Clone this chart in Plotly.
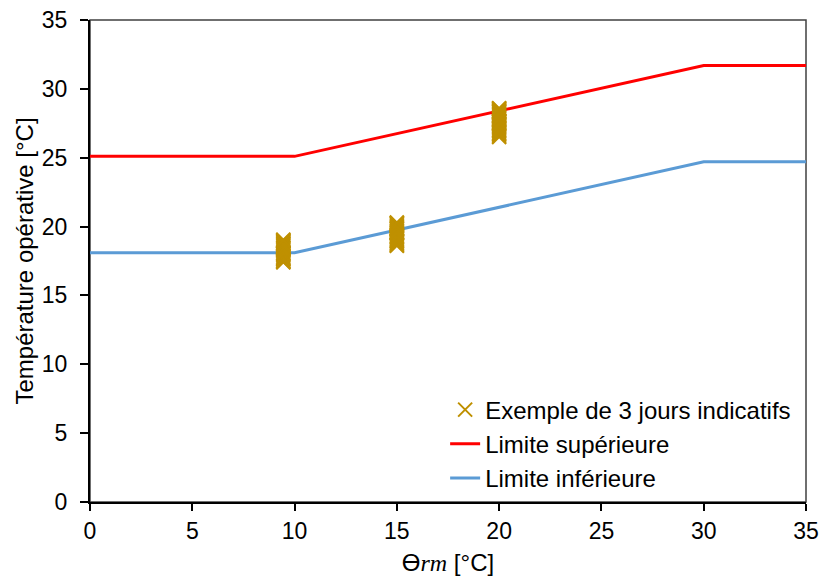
import plotly.graph_objects as go

# Limits (EN 15251-type adaptive comfort)
limit_x = [0, 10, 30, 35]
upper_y = [25.1, 25.1, 31.7, 31.7]
lower_y = [18.1, 18.1, 24.7, 24.7]

# Three indicative days (hourly operative temperatures)
day1_x = 9.45
day1_y = [17.4, 17.5, 17.45, 17.6, 17.7, 17.65, 17.8, 17.9, 18.0, 18.1, 18.05, 18.2,
          18.3, 18.4, 18.5, 18.45, 18.6, 18.7, 18.8, 18.75, 18.9, 18.95, 19.0, 19.05]
day2_x = 15.0
day2_y = [18.6, 18.7, 18.65, 18.8, 18.9, 19.0, 18.95, 19.1, 19.2, 19.3, 19.25, 19.4,
          19.5, 19.6, 19.55, 19.7, 19.8, 19.9, 19.85, 20.0, 20.1, 20.2, 20.25, 20.3]
day3_x = 20.0
day3_y = [26.5, 26.6, 26.7, 26.8, 26.9, 27.0, 27.1, 27.2, 27.3, 27.4, 27.5, 27.6,
          27.7, 27.8, 27.9, 28.0, 28.1, 28.2, 28.3, 28.35, 28.4, 28.5, 28.55, 28.6]

ticks = [0, 5, 10, 15, 20, 25, 30, 35]

pts_x = [day1_x] * len(day1_y) + [day2_x] * len(day2_y) + [day3_x] * len(day3_y)
pts_y = day1_y + day2_y + day3_y

FONT = "Liberation Sans, Arial, sans-serif"

fig = go.Figure()
fig.add_trace(go.Scatter(x=limit_x, y=upper_y, mode="lines", name="Limite supérieure",
                         line=dict(color="#FF0000", width=3), legendrank=2))
fig.add_trace(go.Scatter(x=limit_x, y=lower_y, mode="lines", name="Limite inférieure",
                         line=dict(color="#5B9BD5", width=3), legendrank=3))
fig.add_trace(go.Scatter(x=pts_x, y=pts_y, mode="markers", name="Exemple de 3 jours indicatifs",
                         marker=dict(symbol="x-thin", size=14, color="#BF9000",
                                     line=dict(color="#BF9000", width=2)),
                         legendrank=1))

fig.update_layout(
    width=822, height=577,
    margin=dict(l=90, r=16, t=20, b=75),
    paper_bgcolor="white", plot_bgcolor="white",
    font=dict(family=FONT, size=23, color="#000000"),
    showlegend=True,
    legend=dict(x=0.496, y=0.003, xanchor="left", yanchor="bottom",
                bgcolor="rgba(0,0,0,0)", font=dict(size=24), tracegroupgap=0,
                itemwidth=30),
    xaxis=dict(range=[0, 35], tickvals=ticks, ticktext=[str(t) for t in ticks],
               showgrid=False, zeroline=False, showline=True, linecolor="black", linewidth=2,
               ticks="outside", ticklen=7, tickwidth=2, tickcolor="black",
               tickfont=dict(size=23, family=FONT), automargin=False,
               title=dict(text="Ɵ<span style=\"font-family:'Liberation Serif', serif\"><i>rm</i></span> [°C]",
                          font=dict(size=24, family=FONT), standoff=12)),
    yaxis=dict(range=[0, 35], tickvals=ticks, ticktext=[str(t) for t in ticks],
               showgrid=False, zeroline=False, showline=True, linecolor="black", linewidth=2,
               ticks="outside", ticklen=8, tickwidth=2, tickcolor="black",
               ticklabelstandoff=8,
               tickfont=dict(size=23, family=FONT), automargin=False,
               title=dict(text="Température opérative [°C]", font=dict(size=24, family=FONT),
                          standoff=1)),
    shapes=[dict(type="rect", xref="paper", yref="paper", x0=0, y0=0, x1=1, y1=1,
                 line=dict(color="#404040", width=1.5), layer="below")],
)

# remove the default 8px page margin so the figure fills the window exactly
fig.write_html("out.html", config={"displayModeBar": False},
               post_script="document.body.style.margin='0';")
